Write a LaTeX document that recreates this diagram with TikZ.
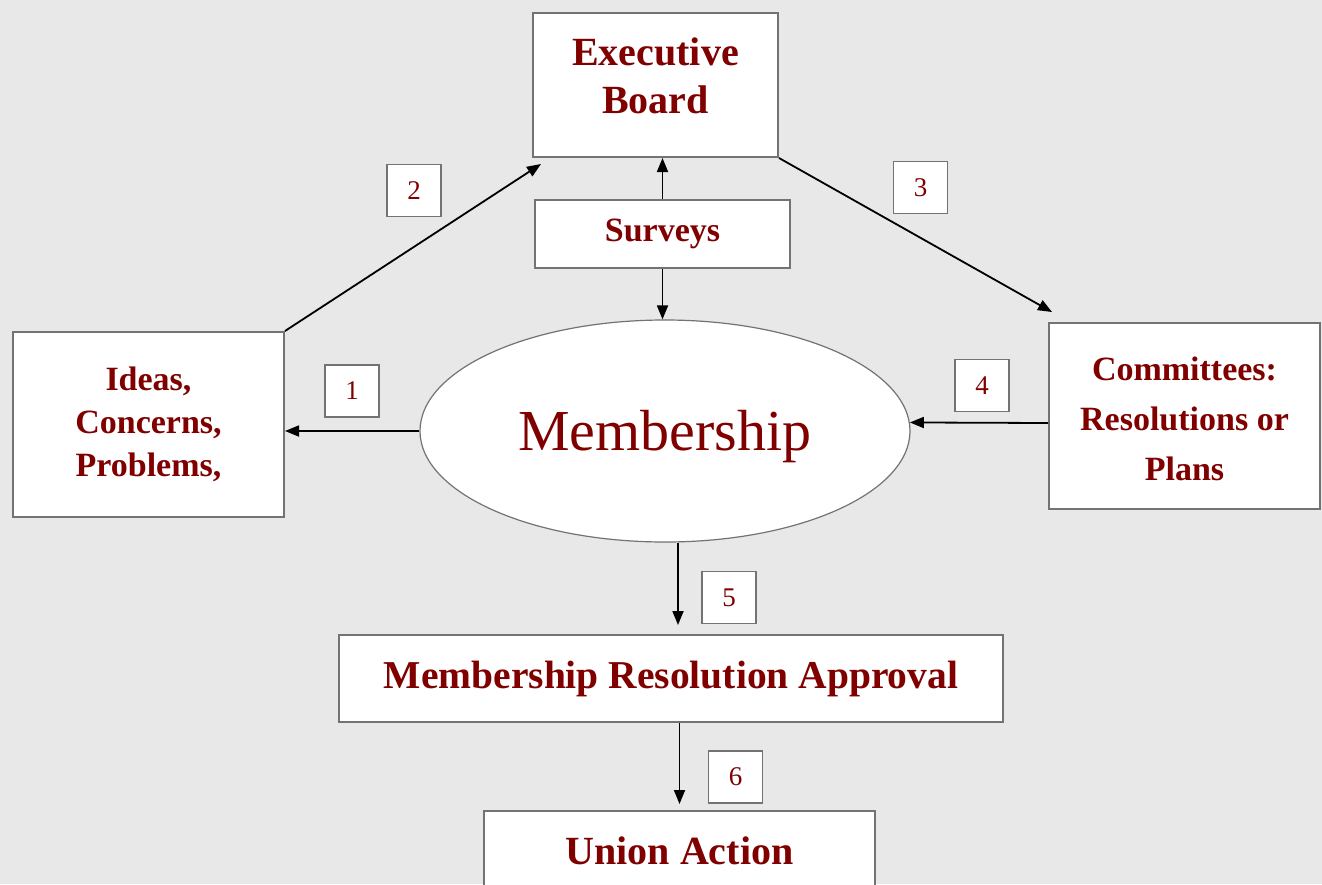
\documentclass[tikz,border=0pt]{standalone}
\usepackage{fontspec}
\setmainfont{Liberation Serif}
\usetikzlibrary{arrows.meta,shapes.geometric}
\definecolor{dred}{RGB}{128,0,0}
\definecolor{bordergray}{RGB}{115,115,115}
\definecolor{bggray}{RGB}{232,232,232}
\begin{document}
\begin{tikzpicture}[x=1pt,y=-1pt,
    box/.style={draw=bordergray,line width=2pt,fill=white,inner sep=0pt,align=center,text=dred},
    numbox/.style={draw=bordergray,line width=1.8pt,fill=white,minimum width=54pt,minimum height=52pt,
      inner sep=0pt,text=dred,font=\fontsize{27}{27}\selectfont},
    arrow/.style={line width=1.8pt,-{Triangle[length=14pt,width=11pt]}}]
  \useasboundingbox (0,0) rectangle (1322,884);
  \fill[bggray] (0,0) rectangle (1322,884);
  \clip (0,0) rectangle (1322,884);

  % boxes
  \node[box,minimum width=245pt,minimum height=144pt,font=\bfseries\fontsize{40}{48}\selectfont]
    (exec) at (655.5,85) {\raisebox{5pt}[\height][\depth]{\begin{tabular}{@{}c@{}}Executive\\Board\end{tabular}}};
  \node[box,minimum width=255pt,minimum height=68pt,font=\bfseries\fontsize{34}{40}\selectfont]
    (surveys) at (662.5,234) {Surveys};
  \node[box,minimum width=271pt,minimum height=185pt,font=\bfseries\fontsize{34}{43}\selectfont]
    (ideas) at (148.5,424.5) {Ideas,\\Concerns,\\Problems,};
  \node[box,minimum width=271pt,minimum height=186pt,font=\bfseries\fontsize{34}{50}\selectfont]
    (comm) at (1184.5,416) {\raisebox{-4pt}[\height][\depth]{\begin{tabular}{@{}c@{}}Committees:\\Resolutions or\\Plans\end{tabular}}};
  \node[ellipse,draw=bordergray,line width=1.2pt,fill=white,minimum width=490pt,minimum height=222pt,
    inner sep=0pt,text=dred,font=\fontsize{58}{58}\selectfont] (member) at (665,431)
    {\raisebox{-6pt}[\height][\depth]{Membership}};
  \node[box,minimum width=664pt,minimum height=87pt,font=\bfseries\fontsize{39.5}{46}\selectfont]
    (mra) at (671,678.5) {Membership Resolution Approval};
  \node[box,minimum width=391pt,minimum height=80pt,font=\bfseries\fontsize{40}{48}\selectfont]
    (union) at (679.5,851) {Union Action};

  % step numbers
  \node[numbox] (n1) at (352,391) {1};
  \node[numbox] (n2) at (414,190.5) {2};
  \node[numbox] (n3) at (920.5,187.5) {3};
  \node[numbox] (n4) at (982,385.5) {4};
  \node[numbox] (n5) at (729,597.5) {5};
  \node[numbox] (n6) at (735.5,777) {6};

  % arrows
  \coordinate (a5) at ([xshift=7pt]mra.north);
  \draw[arrow] (member.west) -- (member.west -| ideas.east);
  \draw[arrow] (ideas.north east) -- ([xshift=9pt,yshift=-6pt]exec.south west);
  \draw[arrow] (exec.south east) -- ([xshift=4pt,yshift=10pt]comm.north west);
  \draw[arrow] ([yshift=-7pt]comm.west) -- (member.2);
  \draw[arrow] (surveys.north) -- (surveys.north |- exec.south);
  \draw[arrow] (surveys.south) -- (surveys.south |- member.north);
  \draw[arrow,shorten >=9pt] (a5 |- member.south) -- (a5);
  \draw[arrow,shorten >=6pt] (union.north |- mra.south) -- (union.north);
\end{tikzpicture}
\end{document}
